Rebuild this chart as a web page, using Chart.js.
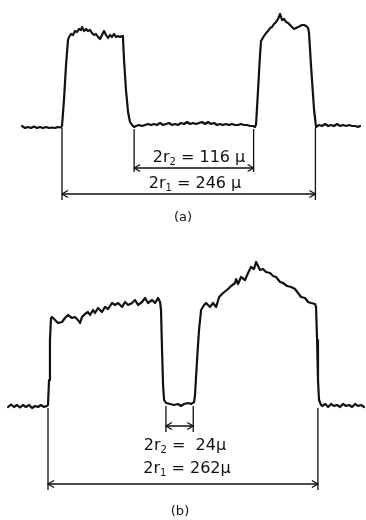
<!DOCTYPE html>
<html>
<head>
<meta charset="utf-8">
<script src="https://cdn.jsdelivr.net/npm/chart.js@4"></script>
<style>
  html, body { margin: 0; padding: 0; background: #fff; }
  #wrap { position: relative; width: 366px; height: 520px; }
  canvas { position: absolute; left: 0; }
  #ca { top: 0; }
  #cb { top: 230px; }
</style>
</head>
<body>
<div id="wrap">
  <canvas id="ca" width="366" height="230"></canvas>
  <canvas id="cb" width="366" height="290"></canvas>
</div>
<script>
// ---- Profile (a): position in microns, relative intensity ----
const aPos = [-38.8,-35.9,-33.0,-30.1,-27.2,-24.3,-21.4,-18.4,-15.5,-12.6,-9.7,-6.8,-3.9,-1.0,
  0,1.9,3.9,5.8,6.8,
  8.7,10.7,12.6,14.6,16.5,18.4,19.4,21.4,23.3,25.2,27.2,29.1,31.1,33.0,35.0,36.9,38.8,40.8,42.7,44.7,46.6,48.5,50.5,52.4,54.4,56.3,58.3,59.2,
  60.2,62.1,64.1,66.0,68.0,69.9,
  71.9,74.8,77.7,80.6,83.5,86.4,89.3,92.2,95.1,98.1,101.0,103.9,106.8,109.7,112.6,115.5,118.5,121.4,124.3,127.2,130.1,133.0,135.9,138.8,141.7,144.7,147.6,150.5,153.4,156.3,159.2,162.1,165.0,168.0,170.9,173.8,176.7,179.6,182.5,185.4,187.4,
  188.4,190.3,192.2,193.2,
  196.1,198.1,200.0,202.0,203.9,205.8,207.8,209.7,211.7,213.6,215.6,217.5,219.5,221.4,223.3,225.3,227.2,229.2,231.1,233.0,235.0,236.9,238.9,239.8,
  241.8,244.7,246.6,
  249.5,252.4,255.4,258.3,261.2,264.1,267.0,269.9,272.8,275.8,278.7,281.6,284.5,287.4,289.3];
const aVal = [1,-1,0,-1,0.5,-1,0,-1,0,-1,-0.5,-1,0,-0.5,
  1,27,62,87,90,
  93,92,96,95,98,97,100,96,98,96,97,94,92,93,90,88,92,96,92,89,92,90,93,90,91,90,91,89,
  67,37,15,5,2,0,
  1,2,1,2,3,2,3,2,4,2,3,4,2,3,2,4,3,5,3,4,3,4,5,3,5,3,4,2,3,2,3,2,3,2,2,3,2,2,1,1,0,
  3,37,72,86,
  91,94,96,99,100,103,105,108,113,107,108,105,104,102,100,98,99,100,101,102,102,101,99,94,
  60,17,0,
  2,1,3,1,2,1,3,1,2,1,2,1,1,0,1];

// ---- Profile (b) ----
const bPos = [-38.8,-35.9,-33.0,-30.1,-27.2,-24.3,-21.4,-18.4,-15.5,-12.6,-9.7,-6.8,-3.9,-1.0,0,
  1.0,1.9,2.9,
  3.9,6.8,9.7,13.6,16.5,19.4,23.3,26.2,29.1,31.1,33.0,35.9,38.8,40.8,43.7,45.6,48.5,52.4,55.3,58.3,62.1,65.1,68.0,71.9,74.8,77.7,81.6,84.5,87.4,91.3,94.2,97.1,101.0,103.9,106.8,108.8,
  109.7,110.7,111.7,112.7,114.6,
  118.5,122.3,126.2,129.1,132.1,135.9,138.9,141.8,
  142.7,144.7,146.6,148.6,
  151.5,153.4,157.3,160.2,163.2,166.1,170.0,174.8,177.7,181.6,182.6,184.5,187.4,191.3,194.2,197.1,200.0,202.0,203.9,205.8,208.7,211.7,215.6,218.5,221.4,225.3,228.2,232.1,236.0,239.8,242.7,245.7,249.5,252.5,255.4,259.3,260.2,
  261.2,262.1,263.1,265.1,
  266.1,269.0,271.9,274.8,277.7,280.6,283.5,286.4,289.4,292.3,295.2,298.1,301.0,303.9,306.8];
const bVal = [-2,0.5,-2,0,-2.5,0,-2,0,-3,-1,-2,0,-2,-1,0,
  25,65,87,
  88,85,82,83,87,90,87,88,85,82,88,91,93,90,95,92,97,93,98,96,102,100,102,98,103,100,102,105,100,103,107,102,105,102,107,103,
  95,55,20,5,2,
  1,0,1,-1,1,2,1,3,
  10,45,75,95,
  100,102,98,102,98,108,112,116,119,122,126,121,128,125,132,138,136,143,139,135,136,133,132,129,128,123,122,119,118,116,112,108,107,103,102,101,98,
  65,25,5,0,
  -1,1,-2,1,-1,0,-2,1,-1,0,-2,1,-1,0,-2];

// ---- Dimension marks (microns) and labels ----
const aOuter = [0, 246];
const aInner = [70, 186];
const bOuter = [0, 262];
const bInner = [114.5, 141];
const aLabels = [['2r', '2', ' = 116 μ'], ['2r', '1', ' = 246 μ']];
const bLabels = [['2r', '2', ' =  24μ'], ['2r', '1', ' = 262μ']];
const captions = ['(a)', '(b)'];

const FONT = '"DejaVu Sans", sans-serif';

function arrowHead(ctx, x, y, dir) {
  ctx.beginPath();
  ctx.moveTo(x - dir * 6, y - 3.5);
  ctx.lineTo(x, y);
  ctx.lineTo(x - dir * 6, y + 3.5);
  ctx.stroke();
}

function dimLabel(ctx, cx, cy, parts) {
  ctx.save();
  ctx.fillStyle = '#111';
  ctx.textBaseline = 'middle';
  ctx.textAlign = 'left';
  const mainF = '16px ' + FONT, subF = '10px ' + FONT;
  ctx.font = mainF; const w1 = ctx.measureText(parts[0]).width;
  ctx.font = subF; const w2 = ctx.measureText(parts[1]).width;
  ctx.font = mainF; const w3 = ctx.measureText(parts[2]).width;
  let x = cx - (w1 + w2 + w3) / 2;
  ctx.font = mainF; ctx.fillText(parts[0], x, cy); x += w1;
  ctx.font = subF; ctx.fillText(parts[1], x, cy + 4); x += w2;
  ctx.font = mainF; ctx.fillText(parts[2], x, cy);
  ctx.restore();
}

const dimPlugin = {
  id: 'dims',
  afterDatasetsDraw(chart, args, o) {
    const ctx = chart.ctx, xs = chart.scales.x, ys = chart.scales.y;
    const base = ys.getPixelForValue(0);
    ctx.save();
    ctx.strokeStyle = '#111';
    ctx.lineWidth = 1.3;
    const pair = (edges, top, bottom, arrowY) => {
      const x1 = xs.getPixelForValue(edges[0]);
      const x2 = xs.getPixelForValue(edges[1]);
      ctx.beginPath();
      ctx.moveTo(x1, base + top); ctx.lineTo(x1, bottom);
      ctx.moveTo(x2, base + top); ctx.lineTo(x2, bottom);
      ctx.moveTo(x1, arrowY); ctx.lineTo(x2, arrowY);
      ctx.stroke();
      arrowHead(ctx, x1, arrowY, -1);
      arrowHead(ctx, x2, arrowY, 1);
    };
    pair(o.outer, o.outerTop, o.outerBottom, o.outerArrow);
    pair(o.inner, o.innerTop, o.innerBottom, o.innerArrow);
    o.labels.forEach((l, i) => dimLabel(ctx, o.labelX[i], o.labelY[i], l));
    ctx.fillStyle = '#111';
    ctx.font = '13px ' + FONT;
    ctx.textAlign = 'center';
    ctx.textBaseline = 'middle';
    ctx.fillText(o.caption, o.captionX, o.captionY);
    ctx.restore();
  }
};

function makeChart(id, pos, val, xMin, xMax, yMin, yMax, dims) {
  return new Chart(document.getElementById(id), {
    type: 'line',
    data: {
      datasets: [{
        data: pos.map((p, i) => ({ x: p, y: val[i] })),
        borderColor: '#111',
        borderWidth: 2.2,
        pointRadius: 0,
        tension: 0,
        fill: false,
        borderJoinStyle: 'round',
        borderCapStyle: 'round'
      }]
    },
    options: {
      responsive: false,
      animation: false,
      events: [],
      layout: { padding: 0 },
      plugins: { legend: { display: false }, tooltip: { enabled: false }, title: { display: false }, dims: dims },
      scales: {
        x: { type: 'linear', display: false, min: xMin, max: xMax },
        y: { type: 'linear', display: false, min: yMin, max: yMax }
      }
    },
    plugins: [dimPlugin]
  });
}

makeChart('ca', aPos, aVal, -60.2, 295.1, -103, 127, {
  outer: aOuter, inner: aInner,
  outerTop: 1, outerBottom: 200, outerArrow: 194,
  innerTop: 2, innerBottom: 172, innerArrow: 168,
  labels: aLabels, labelX: [199, 195], labelY: [158, 184],
  caption: captions[0], captionX: 183, captionY: 218
});

makeChart('cb', bPos, bVal, -46.6, 308.7, -115, 175, {
  outer: bOuter, inner: bInner,
  outerTop: 3, outerBottom: 260, outerArrow: 254,
  innerTop: 1, innerBottom: 202, innerArrow: 196,
  labels: bLabels, labelX: [185, 187], labelY: [216, 239],
  caption: captions[1], captionX: 180, captionY: 282
});
</script>
</body>
</html>
